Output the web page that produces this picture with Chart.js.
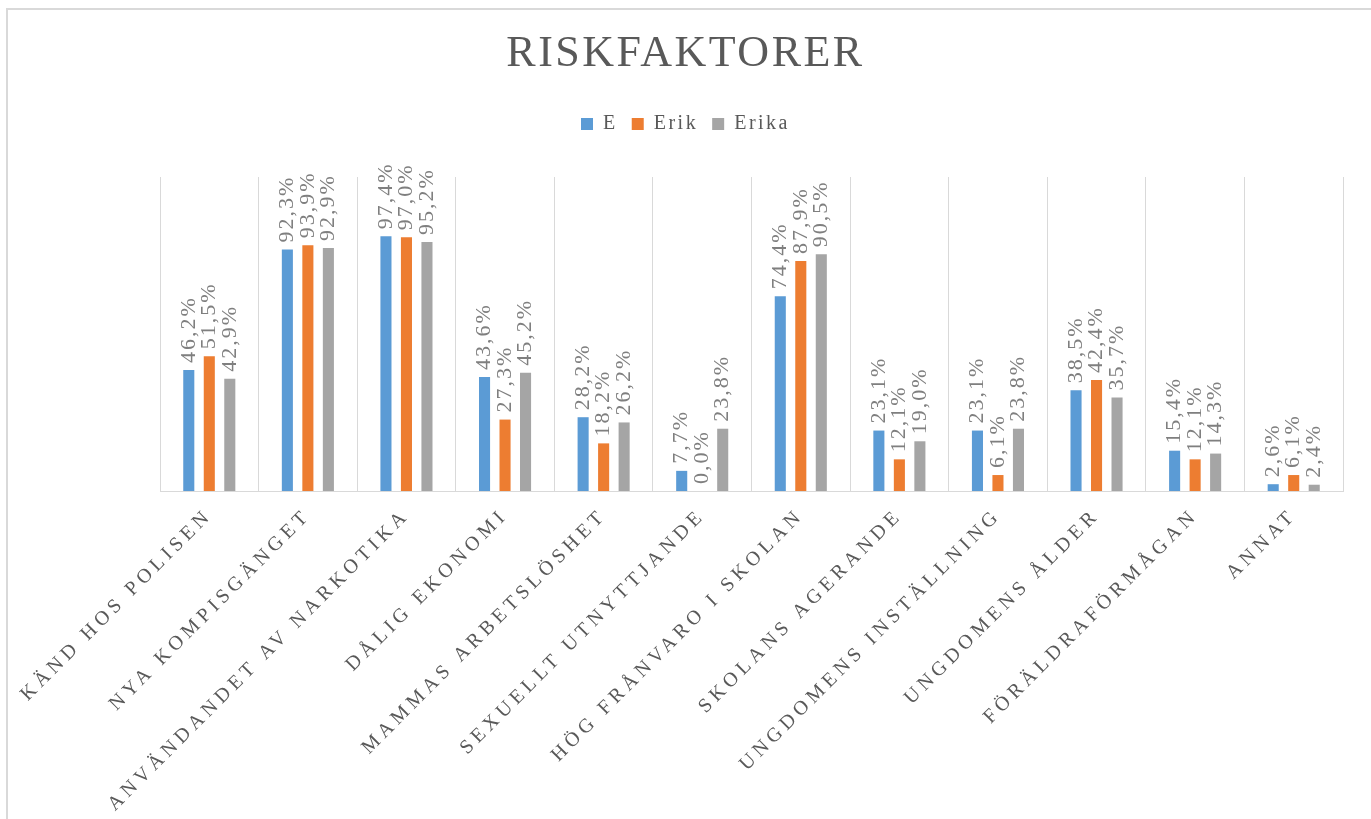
<!DOCTYPE html>
<html><head><meta charset="utf-8">
<script src="https://cdn.jsdelivr.net/npm/chart.js@4.4.1/dist/chart.umd.min.js"></script>
<style>
html,body{margin:0;padding:0;background:#fff;}
#wrap{position:relative;width:1371px;height:819px;overflow:hidden;}
#frame{position:absolute;left:6px;top:8px;width:1400px;height:900px;border-left:2px solid #d9d9d9;border-top:2px solid #d9d9d9;pointer-events:none;}
canvas{position:absolute;left:0;top:0;}
</style></head><body>
<div id="wrap"><canvas id="c" width="1371" height="819"></canvas><div id="frame"></div></div>
<script>
const categories = [
  "KÄND HOS POLISEN", "NYA KOMPISGÄNGET", "ANVÄNDANDET AV NARKOTIKA", "DÅLIG EKONOMI",
  "MAMMAS ARBETSLÖSHET", "SEXUELLT UTNYTTJANDE", "HÖG FRÅNVARO I SKOLAN", "SKOLANS AGERANDE",
  "UNGDOMENS INSTÄLLNING", "UNGDOMENS ÅLDER", "FÖRÄLDRAFÖRMÅGAN", "ANNAT"
];
const seriesNames = ["E", "Erik", "Erika"];
const valuesE     = [46.2, 92.3, 97.4, 43.6, 28.2, 7.7, 74.4, 23.1, 23.1, 38.5, 15.4, 2.6];
const valuesErik  = [51.5, 93.9, 97.0, 27.3, 18.2, 0.0, 87.9, 12.1, 6.1, 42.4, 12.1, 6.1];
const valuesErika = [42.9, 92.9, 95.2, 45.2, 26.2, 23.8, 90.5, 19.0, 23.8, 35.7, 14.3, 2.4];
const titleText = "RISKFAKTORER";

const FONT = "'Liberation Serif', 'Times New Roman', serif";
const fmt = v => v.toFixed(1).replace('.', ',') + '%';

const spacingAndLabels = {
  id: 'spacingAndLabels',
  beforeLayout(chart) { chart.ctx.letterSpacing = '2.5px'; },
  beforeDraw(chart) { chart.ctx.letterSpacing = '2.5px'; },
  afterDatasetsDraw(chart) {
    const ctx = chart.ctx;
    ctx.save();
    ctx.font = '22px ' + FONT;
    ctx.fillStyle = '#7f7f7f';
    ctx.letterSpacing = '2px';
    ctx.textAlign = 'left';
    ctx.textBaseline = 'middle';
    chart.data.datasets.forEach((ds, di) => {
      const meta = chart.getDatasetMeta(di);
      meta.data.forEach((el, i) => {
        ctx.save();
        ctx.translate(el.x, el.y - 7);
        ctx.rotate(-Math.PI / 2);
        ctx.fillText(fmt(ds.data[i]), 0, 0);
        ctx.restore();
      });
    });
    ctx.restore();
    ctx.letterSpacing = '4.5px';
  },
  afterDraw(chart) { chart.ctx.letterSpacing = '2.5px'; }
};

const colors = ['#5b9bd5', '#ed7d31', '#a5a5a5'];
const seriesValues = [valuesE, valuesErik, valuesErika];

new Chart(document.getElementById('c'), {
  type: 'bar',
  data: {
    labels: categories,
    datasets: seriesNames.map((n, i) => ({
      label: n, data: seriesValues[i], backgroundColor: colors[i], borderWidth: 0,
      categoryPercentage: 0.624, barPercentage: 0.54
    }))
  },
  options: {
    responsive: false, animation: false, devicePixelRatio: 1,
    layout: { padding: { top: 8, left: 0, right: 0, bottom: 0 } },
    plugins: {
      tooltip: { enabled: false },
      title: { display: true, text: titleText, color: '#595959',
        font: { family: FONT, size: 44, weight: 'normal', lineHeight: 1.2 },
        padding: { top: 19.6, bottom: 19.6 } },
      legend: { display: true, position: 'top',
        labels: { color: '#595959', boxWidth: 12, boxHeight: 12, padding: 14,
          font: { family: FONT, size: 20 } } },
      subtitle: { display: true, text: '', weight: 500, padding: 0,
        font: { size: 33, lineHeight: 1 } }
    },
    scales: {
      x: {
        grid: { display: true, color: '#d9d9d9', lineWidth: 1, drawTicks: false, offset: true },
        border: { display: true, color: '#d9d9d9', width: 1 },
        ticks: { color: '#595959', font: { family: FONT, size: 20 }, minRotation: 45, maxRotation: 45,
          autoSkip: false, padding: 13, z: 1 },
        afterFit(s) { s.height = 328; s.paddingLeft = 160; s.paddingRight = 28; }
      },
      y: { display: false, min: 0, max: 120 }
    }
  },
  plugins: [spacingAndLabels]
});
</script>
</body></html>
